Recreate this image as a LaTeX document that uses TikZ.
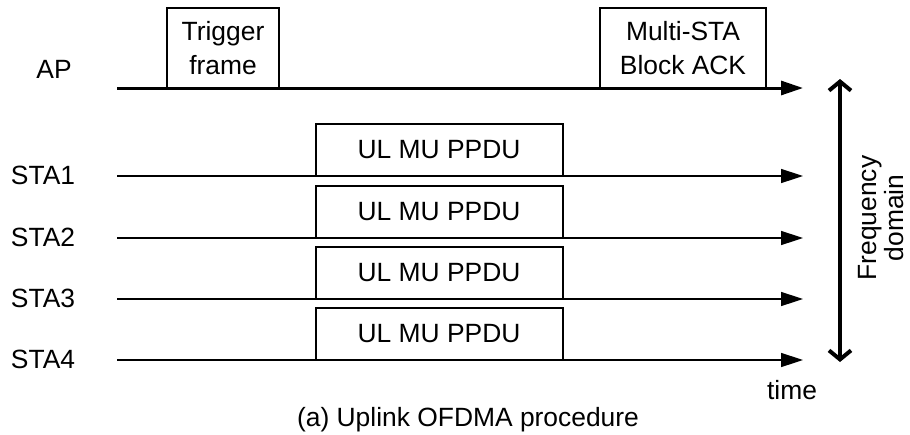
\documentclass[tikz,border=0pt]{standalone}
\usepackage{fontspec}
\setmainfont{Liberation Sans}
\usetikzlibrary{arrows.meta}
\begin{document}
\begin{tikzpicture}[x=0.5pt,y=-0.5pt,
  txt/.style={font=\fontsize{13.2}{17}\selectfont, inner sep=0pt, align=center},
  frame/.style={draw, line width=1pt, txt},
  apline/.style={line width=1.5pt, -{Triangle[length=11pt,width=7pt]}},
  staline/.style={line width=0.75pt, -{Triangle[length=11pt,width=7pt]}},
  freq/.style={line width=2pt, {Straight Barb[length=4.5pt,width=11pt]}-{Straight Barb[length=4.5pt,width=11pt]}}]
\useasboundingbox (0,0) rectangle (910,434);
% labels
\node[txt] (lap) at (54,69) {AP};
\node[txt] (l1) at (43,175) {STA1};
\node[txt] (l2) at (43,237) {STA2};
\node[txt] (l3) at (43,298) {STA3};
\node[txt] (l4) at (43,359) {STA4};
% line endpoints
\coordinate (aps) at (117,88); \coordinate (ape) at (803,88);
\coordinate (s1s) at (117,176); \coordinate (s1e) at (803,176);
\coordinate (s2s) at (117,238); \coordinate (s2e) at (803,238);
\coordinate (s3s) at (117,299); \coordinate (s3e) at (803,299);
\coordinate (s4s) at (117,360); \coordinate (s4e) at (803,360);
% boxes
\node[frame, minimum width=56pt, minimum height=40pt] (trig) at (223,48) {Trigger\\frame};
\node[frame, minimum width=83pt, minimum height=40pt] (ack) at (683,48) {Multi-STA\\Block ACK};
\node[frame, minimum width=123.5pt, minimum height=26pt] (p1) at (439,150) {UL MU PPDU};
\node[frame, minimum width=123.5pt, minimum height=26pt] (p2) at (439,212) {UL MU PPDU};
\node[frame, minimum width=123.5pt, minimum height=26pt] (p3) at (439,273) {UL MU PPDU};
\node[frame, minimum width=123.5pt, minimum height=26pt] (p4) at (439,334) {UL MU PPDU};
% lines
\draw[apline] (aps) -- (ape);
\draw[staline] (s1s) -- (s1e);
\draw[staline] (s2s) -- (s2e);
\draw[staline] (s3s) -- (s3e);
\draw[staline] (s4s) -- (s4e);
% frequency arrow
\coordinate (ft) at (840,79); \coordinate (fb) at (840,362);
\draw[freq] (ft) -- (fb);
\node[txt, rotate=90, font=\fontsize{13.2}{13.5}\selectfont] (fd) at (881,218) {Frequency\\domain};
\node[txt] (time) at (792,390) {time};
\node[txt] (cap) at (468,420) {(a) Uplink OFDMA procedure};
\end{tikzpicture}
\end{document}
